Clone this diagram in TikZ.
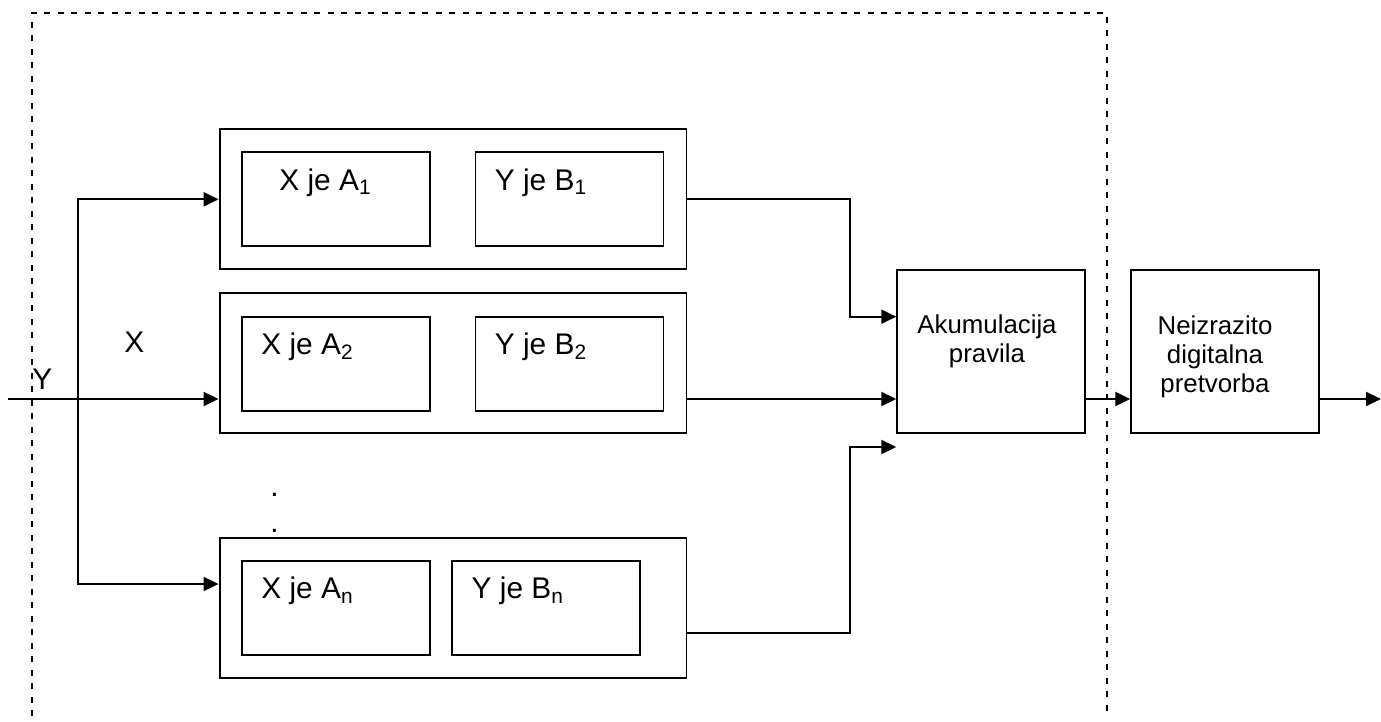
\documentclass[tikz,border=0pt]{standalone}
\usepackage{fontspec}
\setmainfont{Liberation Sans}
\usepackage{tikz}
\usetikzlibrary{arrows.meta}
\newcommand{\widthrule}{9.34cm}
\newcommand{\heightrule}{2.8cm}
\newcommand{\widthcond}{3.76cm}
\newcommand{\heightcond}{1.88cm}
\newcommand{\widthproc}{3.75cm}
\newcommand{\heightproc}{3.26cm}
\tikzset{
    common/.style={draw, rectangle, line width=1.1pt, inner sep=0pt},
    rule/.style={common, minimum width=\widthrule, minimum height=\heightrule},
    cond/.style={common, minimum width=\widthcond, minimum height=\heightcond},
    proc/.style={common, minimum width=\widthproc, minimum height=\heightproc},
    txt/.style={anchor=base west, inner sep=0pt, font=\fontsize{17pt}{20pt}\selectfont},
    proctxt/.style={anchor=north, inner sep=0pt, align=center, font=\fontsize{14.7pt}{16.5pt}\selectfont},
    flow/.style={line width=1.1pt, -{Triangle[length=0.3cm, width=0.28cm]}},
    frame/.style={line width=1.1pt, dash pattern=on 0.12cm off 0.15cm}
}

\begin{document}
\begin{tikzpicture}[x=0.02cm, y=-0.02cm]
      \useasboundingbox (0,0) rectangle (1381,722);

      \draw[frame] (32,716) -- (32,13) -- (1107,13) -- (1107,716);

      \path
          (453,199.3) node[rule] (rule-1) {}
          +(-117,0) node[cond] (x-1) {}
          +(116.5,0) node[cond] (y-1) {};
      \path
          (453,363) node[rule] (rule-2) {}
          +(-117,0.7) node[cond] (x-2) {}
          +(116.5,0.7) node[cond] (y-2) {};
      \path
          (453,607.7) node[rule] (rule-n) {}
          +(-117,0) node[cond] (x-n) {}
          +(93.3,0) node[cond] (y-n) {};

      \path (x-1.north west) +(38,39) node[txt] (x-1-text) {X je A\textsubscript{1}};
      \path (y-1.north west) +(20,39) node[txt] (y-1-text) {Y je B\textsubscript{1}};
      \path (x-2.north west) +(20,39) node[txt] (x-2-text) {X je A\textsubscript{2}};
      \path (y-2.north west) +(20,39) node[txt] (y-2-text) {Y je B\textsubscript{2}};
      \path (x-n.north west) +(20,39) node[txt] (x-n-text) {X je A\textsubscript{n}};
      \path (y-n.north west) +(20,39) node[txt] (y-n-text) {Y je B\textsubscript{n}};

      \path
          (991,351.5) node[proc] (acc) {}
          +(234,0) node[proc] (defuzz) {};
      \path (acc.north) +(-4,45) node[proctxt] (acc-text) {Akumulacija\\pravila};
      \path (defuzz.north) +(-10,46) node[proctxt] (defuzz-text) {Neizrazito\\digitalna\\pretvorba};

      \path
          (124,353) node[txt] (x-label) {X}
          (32,389) node[txt] (y-label) {Y}
          (270,496.5) node[txt] (dots-1) {.}
          (270,532.5) node[txt] (dots-2) {.};

      \coordinate (in) at (8,399);
      \coordinate (fork) at (78,399);
      \coordinate (bus) at (850,399);
      \coordinate (out) at (1381,399);
      \path (rule-n.west) +(0,-23.7) coordinate (rule-n-in);
      \path (rule-n.east) +(0,25) coordinate (rule-n-out);
      \path (acc.west) +(0,-34.8) coordinate (acc-in-1);
      \path (acc.west) +(0,47.5) coordinate (acc-in-2);
      \path (acc.west) +(0,95.5) coordinate (acc-in-n);

      \draw[flow] (in) -- (rule-2.west |- in);
      \draw[flow] (fork) |- (rule-1.west);
      \draw[flow] (fork) |- (rule-n-in);

      \draw[flow] (rule-1.east) -| (bus |- acc-in-1) -- (acc-in-1);
      \draw[flow] (rule-2.east |- acc-in-2) -- (acc-in-2);
      \draw[flow] (rule-n-out) -| (bus |- acc-in-n) -- (acc-in-n);

      \draw[flow] (acc-in-2 -| acc.east) -- (acc-in-2 -| defuzz.west);
      \draw[flow] (acc-in-2 -| defuzz.east) -- (out);
    \end{tikzpicture}
\end{document}
